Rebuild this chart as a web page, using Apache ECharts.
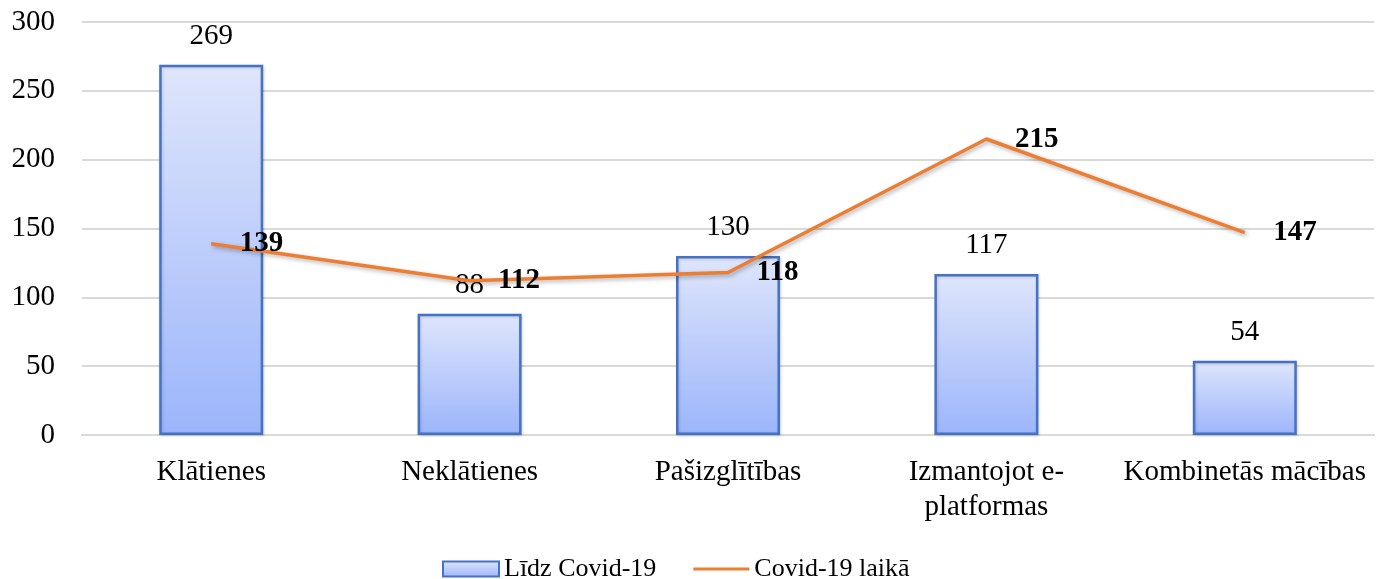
<!DOCTYPE html>
<html>
<head>
<meta charset="utf-8">
<script src="https://cdn.jsdelivr.net/npm/echarts@6/dist/echarts.min.js"></script>
<style>
  html, body { margin: 0; padding: 0; background: #fff; }
  #chart { width: 1378px; height: 579px; }
</style>
</head>
<body>
<div id="chart"></div>
<script>
const categories = ['Klātienes', 'Neklātienes', 'Pašizglītības', 'Izmantojot e-\nplatformas', 'Kombinetās mācības']
const beforeCovid = [269, 88, 130, 117, 54]
const duringCovid = [139, 112, 118, 215, 147]
const seriesNames = ['Līdz Covid-19', 'Covid-19 laikā']

const font = 'Liberation Serif, Times New Roman, serif'
const chart = echarts.init(document.getElementById('chart'))

const barFill = new echarts.graphic.LinearGradient(0, 0, 0, 1, [
  { offset: 0, color: '#dfe6fb' },
  { offset: 1, color: '#9cb5fb' },
])

chart.setOption({
  animation: false,
  textStyle: { fontFamily: font },
  grid: { left: 82, right: 4, top: 22, bottom: 144, containLabel: false },
  legend: {
    top: 551,
    left: 437,
    itemWidth: 56,
    itemHeight: 15,
    itemGap: 37,
    textStyle: { fontFamily: font, fontSize: 26, color: '#000' },
    data: [
      { name: seriesNames[0], icon: 'rect' },
      {
        name: seriesNames[1],
        icon: 'path://M0,0 L56,0 L56,3 L0,3 Z',
        itemStyle: { color: '#ed7d31', opacity: 1 },
      },
    ],
  },
  xAxis: {
    type: 'category',
    data: categories,
    axisLine: { show: true, lineStyle: { color: '#d9d9d9', width: 2 } },
    axisTick: { show: false },
    axisLabel: { interval: 0, fontFamily: font, fontSize: 29, color: '#000', margin: 20, lineHeight: 35 },
  },
  yAxis: {
    type: 'value',
    min: 0,
    max: 300,
    interval: 50,
    axisLine: { show: false },
    axisTick: { show: false },
    splitLine: { lineStyle: { color: '#d9d9d9', width: 2 } },
    axisLabel: { fontFamily: font, fontSize: 29, color: '#000', margin: 27 },
  },
  series: [
    {
      name: seriesNames[0],
      type: 'bar',
      data: beforeCovid,
      barWidth: 104,
      itemStyle: {
        color: barFill,
        borderColor: '#4472c4',
        borderWidth: 2.5,
        shadowColor: 'rgba(0,0,0,0.15)',
        shadowBlur: 3,
        shadowOffsetX: 1,
        shadowOffsetY: 1,
      },
      label: {
        show: true,
        position: 'top',
        distance: 14,
        fontFamily: font,
        fontSize: 29,
        color: '#000',
      },
      z: 2,
    },
    {
      name: seriesNames[1],
      type: 'line',
      data: duringCovid,
      symbol: 'circle',
      symbolSize: 1,
      showSymbol: true,
      lineStyle: {
        color: '#ed7d31',
        width: 3.5,
        shadowColor: 'rgba(0,0,0,0.3)',
        shadowBlur: 4,
        shadowOffsetX: 2,
        shadowOffsetY: 2,
      },
      itemStyle: { color: 'rgba(237,125,49,0)' },
      label: {
        show: true,
        position: 'right',
        distance: 28,
        fontFamily: font,
        fontSize: 29,
        fontWeight: 'bold',
        color: '#000',
      },
      labelLayout: { hideOverlap: false },
      z: 3,
    },
  ],
})
</script>
</body>
</html>
